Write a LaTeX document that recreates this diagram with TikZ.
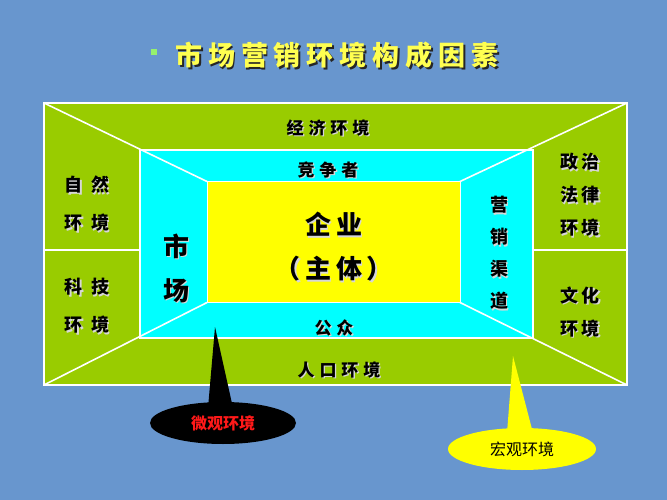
\documentclass[tikz,border=0pt]{standalone}
\usepackage{fontspec}
\usepackage{tikz}
\usetikzlibrary{shapes.geometric}
\newfontfamily\cjk{Noto Sans CJK SC}
\definecolor{bgblue}{RGB}{104,150,206}
\definecolor{grass}{RGB}{153,204,0}
\definecolor{aqua}{RGB}{0,255,255}
\definecolor{sun}{RGB}{255,255,0}
\definecolor{titlegold}{RGB}{255,255,80}
\definecolor{leaf}{RGB}{150,240,110}
\definecolor{alert}{RGB}{255,25,25}
\definecolor{shade}{RGB}{215,215,215}
\tikzset{
  box/.style={draw=white, line width=1.6pt, inner sep=0pt, outer sep=0pt},
  rim/.style={draw=white, line width=1.6pt},
  txt/.style={text=black, inner sep=0pt, align=center},
  heading/.style={inner sep=0pt, text=titlegold,
    font=\cjk\bfseries\addfontfeatures{LetterSpace=22}\fontsize{27}{27}\selectfont},
  band/.style={font=\cjk\bfseries\addfontfeatures{LetterSpace=29}\fontsize{17}{17}\selectfont},
  sideL/.style={font=\cjk\bfseries\addfontfeatures{LetterSpace=45}\fontsize{18}{38}\selectfont},
  sideR/.style={font=\cjk\bfseries\addfontfeatures{LetterSpace=20}\fontsize{18}{33}\selectfont},
  tall/.style={font=\cjk\bfseries\fontsize{18}{32}\selectfont},
  big/.style={font=\cjk\bfseries\addfontfeatures{LetterSpace=18}\fontsize{26}{44}\selectfont},
  call/.style={ellipse, inner sep=0pt, minimum width=146pt, minimum height=42pt,
    font=\cjk\fontsize{16}{16}\selectfont},
  callbold/.style={call, font=\cjk\bfseries\fontsize{16}{16}\selectfont}
}
% label with a light drop shadow
\newcommand{\lbl}[4][]{%
  \node[txt, #1, text=shade, xshift=1.3pt, yshift=-1.3pt] (#2-s) at (#3) {#4};
  \node[txt, #1] (#2) at (#3) {#4};}

\begin{document}
\begin{tikzpicture}[x=1pt,y=-1pt]
  % background
  \fill[bgblue] (0,0) rectangle (667,500);

  % title
  \node[inner sep=0pt, minimum size=6.5pt, fill=leaf] (bullet) at (154,52) {};
  \node[heading, anchor=west, text=black!85, xshift=1.8pt, yshift=-1.8pt] (title-s) at (175,55) {市场营销环境构成因素};
  \node[heading, anchor=west] (title) at (175,55) {市场营销环境构成因素};

  % nested boxes
  \node[box, fill=grass, minimum width=583pt, minimum height=282pt] (outerbox) at (335.5,244) {};
  \node[box, fill=aqua, minimum width=393pt, minimum height=188pt] (midbox) at (336.5,244) {};
  \node[box, fill=sun, line width=1pt, minimum width=253pt, minimum height=121pt] (corebox) at (333.5,242) {};

  % corner lines
  \draw[rim] (outerbox.north west) -- (corebox.north west);
  \draw[rim] (outerbox.north east) -- (corebox.north east);
  \draw[rim] (outerbox.south west) -- (corebox.south west);
  \draw[rim] (outerbox.south east) -- (corebox.south east);
  \draw[rim] ([yshift=-6pt]outerbox.west) -- ([yshift=-6pt]midbox.west);
  \draw[rim] ([yshift=-6pt]outerbox.east) -- ([yshift=-6pt]midbox.east);

  % Labels
  \lbl[band]{economy}{328,128}{经济环境}
  \lbl[band]{rivals}{328,170}{竞争者}
  \lbl[band]{public}{334,328}{公众}
  \lbl[band]{people}{339,370}{人口环境}
  \lbl[big]{firm}{334,247}{企业\\（主体）}
  \lbl[sideL]{nature}{87,204}{自然\\环境}
  \lbl[sideL]{tech}{87,306}{科技\\环境}
  \lbl[big]{market}{176,268}{市\\场}
  \lbl[tall]{channel}{499,253}{营\\销\\渠\\道}
  \lbl[sideR]{law}{580,195}{政治\\法律\\环境}
  \lbl[sideR]{culture}{580,312}{文化\\环境}

  % callouts
  \coordinate (microtip) at (215,327);
  \coordinate (macrotip) at (513,356);
  \fill[black] (microtip) -- (208,408) -- (233,408) -- cycle;
  \node[callbold, fill=black, text=alert] (microcall) at (223,423) {微观环境};
  \fill[sun] (macrotip) -- (507,433) -- (533,433) -- cycle;
  \node[call, fill=sun, text=black, minimum width=148pt] (macrocall) at (522,449) {宏观环境};
\end{tikzpicture}
\end{document}
